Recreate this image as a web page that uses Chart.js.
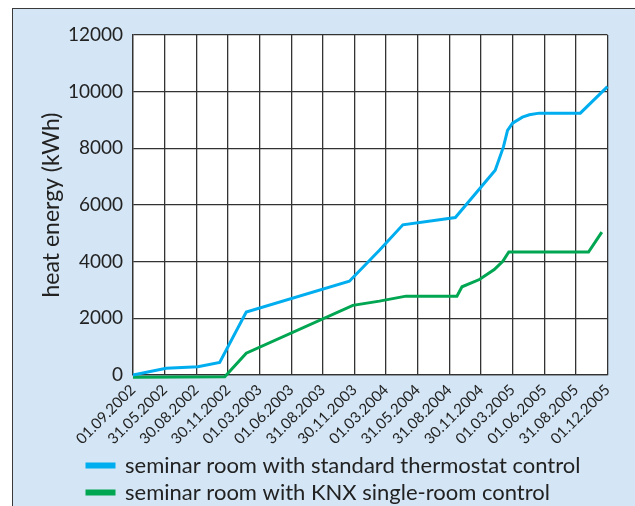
<!DOCTYPE html>
<html>
<head>
<meta charset="utf-8">
<script src="https://cdn.jsdelivr.net/npm/chart.js@4.4.1/dist/chart.umd.min.js"></script>
<style>
  html, body { margin: 0; padding: 0; background: #fff; overflow: hidden; }
  #panel { position: absolute; left: 12px; top: 8px; width: 640px; height: 520px;
           background: #d4e6f5; border: 1.5px solid #3a3a3a; }
  #wrap { position: absolute; left: 0; top: 0; width: 635px; height: 506px; }
</style>
</head>
<body>
<div id="panel"></div>
<div id="wrap"><canvas id="heatChart" width="635" height="506"></canvas></div>
<script>
const canvas = document.getElementById('heatChart');
const ctx = canvas.getContext('2d');

//// tick labels along the x axis (one per gridline)
let dateLabels = ['01.09.2002', '31.05.2002', '30.08.2002', '30.11.2002', '01.03.2003',
  '01.06.2003', '31.08.2003', '30.11.2003', '01.03.2004', '31.05.2004', '31.08.2004',
  '30.11.2004', '01.03.2005', '01.06.2005', '31.08.2005', '01.12.2005'];

//// standard thermostat control (position on date axis, kWh)
let thermoPos = [0, 1.05, 2.05, 2.74, 3.58, 6.84, 7.79, 8.53, 10.19, 11.45, 11.71, 11.84,
  12.0, 12.31, 12.53, 12.84, 14.14, 15];
let thermoKWh = [0, 235, 290, 445, 2220, 3310, 4400, 5300, 5556, 7230, 8050, 8635,
  8890, 9100, 9185, 9242, 9242, 10180];

//// KNX single-room control
let knxPos = [0, 2.9, 3.58, 6.95, 7.79, 8.63, 10.24, 10.40, 10.95, 11.42, 11.69, 11.88, 14.40, 14.82];
let knxKWh = [-80, -60, 772, 2457, 2608, 2783, 2783, 3113, 3370, 3720, 4012, 4342, 4342, 5044];

const FONT = 'Lato, "Open Sans", sans-serif';

function points(xs, ys) {
  return xs.map((x, i) => ({ x: x, y: ys[i] }));
}

// white plot background
const plotBg = {
  id: 'plotBg',
  beforeDraw(chart) {
    const a = chart.chartArea;
    chart.ctx.save();
    chart.ctx.fillStyle = '#ffffff';
    chart.ctx.fillRect(a.left, a.top, a.right - a.left, a.bottom - a.top);
    chart.ctx.restore();
  }
};

// legend sits further in from the left edge than the axis title, and a bit lower
const legendShift = {
  id: 'legendShift',
  afterLayout(chart) {
    const lg = chart.legend;
    lg.left = 82;
    lg.top += 4.5;
    lg.bottom += 4.5;
  }
};

const data = {
  datasets: [
    {
      label: 'seminar room with standard thermostat control',
      data: points(thermoPos, thermoKWh),
      borderColor: '#00aeef',
      backgroundColor: '#00aeef',
      borderWidth: 3,
      pointRadius: 0,
      tension: 0,
      clip: false
    },
    {
      label: 'seminar room with KNX single-room control',
      data: points(knxPos, knxKWh),
      borderColor: '#00a651',
      backgroundColor: '#00a651',
      borderWidth: 3,
      pointRadius: 0,
      tension: 0,
      clip: false
    }
  ]
};

const options = {
  responsive: false,
  animation: false,
  layout: { padding: { top: 35, left: 0, right: 27.5, bottom: -3 } },
  plugins: {
    legend: {
      position: 'bottom',
      align: 'start',
      labels: {
        boxWidth: 27,
        boxHeight: 3,
        padding: 5,
        color: '#222',
        font: { family: FONT, size: 22 }
      }
    },
    tooltip: { enabled: false }
  },
  scales: {
    x: {
      type: 'linear',
      min: 0,
      max: 15,
      ticks: {
        stepSize: 1,
        autoSkip: false,
        maxRotation: 45,
        minRotation: 45,
        padding: 6,
        color: '#222',
        font: { family: FONT, size: 15 },
        callback: function(value) {
          return dateLabels[value] || '';
        }
      },
      grid: { color: '#333', lineWidth: 1.3, drawTicks: false },
      border: { color: '#333', width: 1.3 },
      afterFit: function(scale) {
        scale.height = 70;
        scale.paddingLeft = 0;
        scale.paddingRight = 0;
      }
    },
    y: {
      min: 0,
      max: 12000,
      ticks: {
        stepSize: 2000,
        padding: 10,
        color: '#222',
        font: { family: FONT, size: 19 },
        callback: function(value) {
          return String(value);
        }
      },
      grid: { color: '#333', lineWidth: 1.3, drawTicks: false },
      border: { color: '#333', width: 1.3 },
      title: {
        display: true,
        text: 'heat energy (kWh)',
        color: '#222',
        font: { family: FONT, size: 23 },
        padding: { top: 38, bottom: 0 }
      },
      afterFit: function(scale) {
        scale.width = 133;
        scale.paddingTop = 0;
        scale.paddingBottom = 0;
      }
    }
  }
};

new Chart(ctx, {
  type: 'line',
  data,
  options,
  plugins: [plotBg, legendShift]
});
</script>
</body>
</html>
